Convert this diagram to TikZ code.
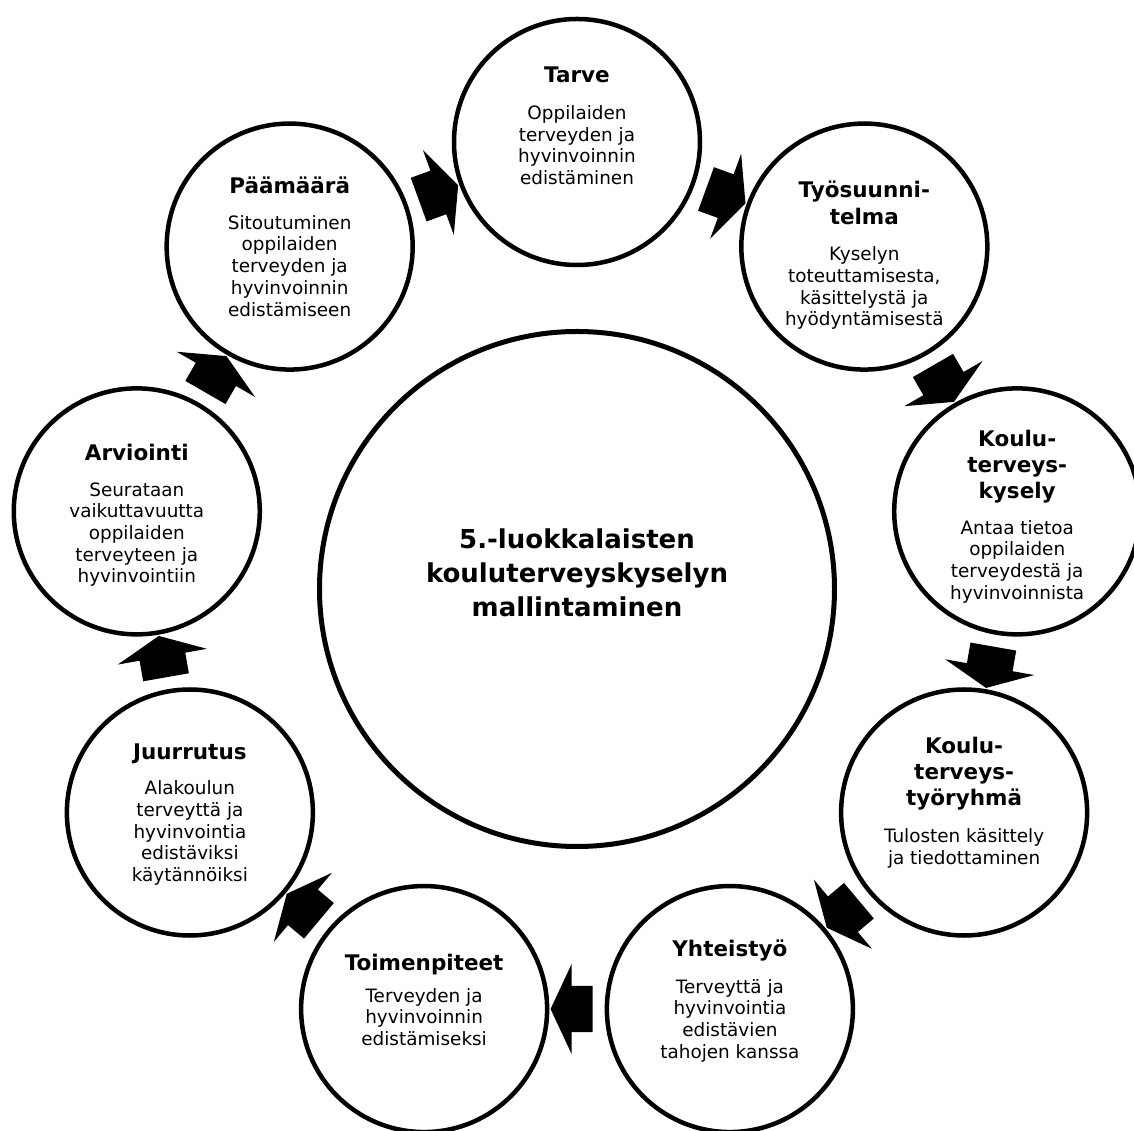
\documentclass[tikz,border=0pt]{standalone}
\usepackage{fontspec}
\setmainfont{DejaVu Sans}
\usetikzlibrary{shapes.arrows}

\newcommand{\otsikko}[1]{{\bfseries\fontsize{21.5}{25}\selectfont #1}}

\begin{document}
\begin{tikzpicture}[
    x=1pt, y=1pt,
    vaihe/.style={circle, draw, line width=4.5pt, minimum size=246pt, inner sep=0pt},
    teksti/.style={align=center, inner sep=0pt, font=\fontsize{18.4}{21.7}\selectfont},
    nuoli/.style={single arrow, fill=black, inner xsep=0pt, inner ysep=23pt, minimum height=42pt,
                  single arrow head extend=22pt, single arrow tip angle=130, sloped, allow upside down}
]
    \path[use as bounding box, fill=white] (-577,-542) rectangle (557,589);

    % Keskus
    \node[circle, draw, line width=5pt, minimum size=515pt] (keskus) at (0,0) {};
    \node[align=center, inner sep=0pt, font=\bfseries\fontsize{26}{34}\selectfont] (keskusteksti) at (0,16)
        {5.-luokkalaisten\\kouluterveyskyselyn\\mallintaminen};

    % Vaiheet
    \node[vaihe] (tarve) at (90:447) {};
    \node[vaihe] (tyosuun) at (50:447) {};
    \node[vaihe] (kysely) at (10:447) {};
    \node[vaihe] (tyoryhma) at (-30:447) {};
    \node[vaihe] (yhteis) at (-70:447) {};
    \node[vaihe] (toimen) at (-110:447) {};
    \node[vaihe] (juurr) at (-150:447) {};
    \node[vaihe] (arvi) at (170:447) {};
    \node[vaihe] (paama) at (130:447) {};

    \node[teksti] (tarveteksti) at ([yshift=16pt]tarve.center)
        {\otsikko{Tarve}\\[15pt]Oppilaiden\\terveyden ja\\hyvinvoinnin\\edistäminen};
    \node[teksti] (tyosuunteksti) at ([yshift=-9pt]tyosuun.center)
        {\otsikko{Työsuunni-}\\[4.5pt]\otsikko{telma}\\[15pt]Kyselyn\\toteuttamisesta,\\käsittelystä ja\\hyödyntämisestä};
    \node[teksti] (kyselyteksti) at ([yshift=-5pt]kysely.center)
        {\otsikko{Koulu-}\\[4.5pt]\otsikko{terveys-}\\[4.5pt]\otsikko{kysely}\\[14pt]Antaa tietoa\\oppilaiden\\terveydestä ja\\hyvinvoinnista};
    \node[teksti] (tyoryhmateksti) at ([yshift=10pt]tyoryhma.center)
        {\otsikko{Koulu-}\\[4.5pt]\otsikko{terveys-}\\[4.5pt]\otsikko{työryhmä}\\[15pt]Tulosten käsittely\\ja tiedottaminen};
    \node[teksti] (yhteisteksti) at ([yshift=8pt]yhteis.center)
        {\otsikko{Yhteistyö}\\[15pt]Terveyttä ja\\hyvinvointia\\edistävien\\tahojen kanssa};
    \node[teksti] (toimenteksti) at ([yshift=9pt]toimen.center)
        {\otsikko{Toimenpiteet}\\[10pt]Terveyden ja\\hyvinvoinnin\\edistämiseksi};
    \node[teksti] (juurrteksti) at ([yshift=-2pt]juurr.center)
        {\otsikko{Juurrutus}\\[14pt]Alakoulun\\terveyttä ja\\hyvinvointia\\edistäviksi\\käytännöiksi};
    \node[teksti] (arviteksti) at ([yshift=-4pt]arvi.center)
        {\otsikko{Arviointi}\\[14pt]Seurataan\\vaikuttavuutta\\oppilaiden\\terveyteen ja\\hyvinvointiin};
    \node[teksti] (paamateksti) at ([yshift=0pt]paama.center)
        {\otsikko{Päämäärä}\\[14pt]Sitoutuminen\\oppilaiden\\terveyden ja\\hyvinvoinnin\\edistämiseen};

    % Nuolet
    \path (paama) -- node[nuoli] (n1) {} (tarve);
    \path (tarve) -- node[nuoli] (n2) {} (tyosuun);
    \path (tyosuun) -- node[nuoli] (n3) {} (kysely);
    \path (kysely) -- node[nuoli] (n4) {} (tyoryhma);
    \path (tyoryhma) -- node[nuoli] (n5) {} (yhteis);
    \path (yhteis) -- node[nuoli] (n6) {} (toimen);
    \path (toimen) -- node[nuoli] (n7) {} (juurr);
    \path (juurr) -- node[nuoli] (n8) {} (arvi);
    \path (arvi) -- node[nuoli] (n9) {} (paama);
\end{tikzpicture}
\end{document}
